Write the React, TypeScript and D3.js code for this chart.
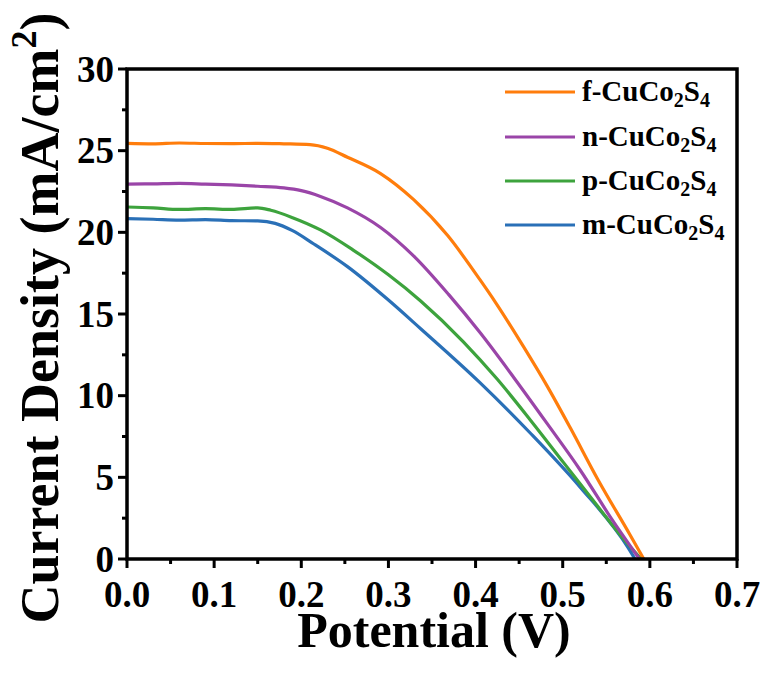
import React from 'react';
import * as d3 from 'd3';

const fPotential = [0, 0.03, 0.06, 0.09, 0.12, 0.15, 0.18, 0.21, 0.23, 0.253, 0.291, 0.329, 0.368, 0.405, 0.423, 0.455, 0.482, 0.509, 0.54, 0.577, 0.593];
const fCurrent = [25.45, 25.42, 25.47, 25.44, 25.43, 25.45, 25.42, 25.37, 25.15, 24.6, 23.6, 22.0, 19.8, 17.1, 15.7, 13.0, 10.6, 8.0, 4.9, 1.5, 0];

const nPotential = [0, 0.03, 0.06, 0.09, 0.12, 0.15, 0.18, 0.2, 0.222, 0.253, 0.291, 0.33, 0.369, 0.406, 0.444, 0.482, 0.52, 0.558, 0.588];
const nCurrent = [22.95, 22.97, 23.0, 22.95, 22.9, 22.82, 22.72, 22.55, 22.2, 21.5, 20.3, 18.5, 16.2, 13.8, 11.1, 8.3, 5.45, 2.3, 0];

const pPotential = [0, 0.03, 0.06, 0.09, 0.12, 0.15, 0.165, 0.19, 0.222, 0.26, 0.3, 0.337, 0.386, 0.425, 0.463, 0.501, 0.539, 0.575, 0.59];
const pCurrent = [21.55, 21.5, 21.4, 21.45, 21.4, 21.5, 21.35, 20.9, 20.15, 18.9, 17.4, 15.8, 13.3, 11.0, 8.5, 5.9, 3.3, 0.9, 0];

const mPotential = [0, 0.03, 0.06, 0.09, 0.12, 0.15, 0.17, 0.19, 0.214, 0.253, 0.299, 0.337, 0.405, 0.463, 0.52, 0.575, 0.583];
const mCurrent = [20.84, 20.8, 20.75, 20.78, 20.72, 20.7, 20.55, 20.1, 19.3, 17.9, 15.9, 14.1, 10.8, 7.7, 4.4, 0.7, 0];

const seriesPrefixes = ['f', 'n', 'p', 'm'];
const seriesColors = ['#FF7D0C', '#9A45A8', '#3DA33D', '#2A70B7'];
const seriesPotentials = [fPotential, nPotential, pPotential, mPotential];
const seriesCurrents = [fCurrent, nCurrent, pCurrent, mCurrent];

const xTicks = [0, 0.1, 0.2, 0.3, 0.4, 0.5, 0.6, 0.7];
const xMinorTicks = [0.05, 0.15, 0.25, 0.35, 0.45, 0.55, 0.65];
const yTicks = [0, 5, 10, 15, 20, 25, 30];
const yMinorTicks = [2.5, 7.5, 12.5, 17.5, 22.5, 27.5];

const W = 766;
const H = 673;
const left = 127, right = 737, top = 69, bottom = 559;
const FONT = '"Liberation Serif", "Times New Roman", serif';

export default function App() {
  const x = d3.scaleLinear().domain([0, 0.7]).range([left, right]);
  const y = d3.scaleLinear().domain([0, 30]).range([bottom, top]);
  const line = d3.line<[number, number]>()
    .x(d => x(d[0]))
    .y(d => y(d[1]))
    .curve(d3.curveMonotoneX);

  const legendY = [92, 137, 181, 225];

  return (
    <svg width={W} height={H} style={{ position: 'absolute', left: 0, top: 0, background: '#fff' }} fontFamily={FONT} fontWeight="bold">
      <rect x={0} y={0} width={W} height={H} fill="#fff" />
      {seriesPotentials.map((vs, i) => {
        const pts = vs.map((v, k) => [v, seriesCurrents[i][k]] as [number, number]);
        return <path key={i} d={line(pts) || ''} fill="none" stroke={seriesColors[i]} strokeWidth={3.2} strokeLinejoin="round" />;
      }).reverse()}
      <rect x={left} y={top} width={right - left} height={bottom - top} fill="none" stroke="#000" strokeWidth={3.5} />
      {xTicks.map(t => (
        <g key={'xt' + t}>
          <line x1={x(t)} x2={x(t)} y1={bottom} y2={bottom + 9} stroke="#000" strokeWidth={3} />
          <text x={x(t)} y={607} textAnchor="middle" fontSize={37}>{t.toFixed(1)}</text>
        </g>
      ))}
      {xMinorTicks.map(t => (
        <line key={'xm' + t} x1={x(t)} x2={x(t)} y1={bottom} y2={bottom + 5} stroke="#000" strokeWidth={3} />
      ))}
      {yTicks.map(t => (
        <g key={'yt' + t}>
          <line x1={left - 9} x2={left} y1={y(t)} y2={y(t)} stroke="#000" strokeWidth={3} />
          <text x={114} y={y(t) + 12.5} textAnchor="end" fontSize={37}>{t}</text>
        </g>
      ))}
      {yMinorTicks.map(t => (
        <line key={'ym' + t} x1={left - 5} x2={left} y1={y(t)} y2={y(t)} stroke="#000" strokeWidth={3} />
      ))}
      <text x={434} y={647} textAnchor="middle" fontSize={50}>Potential (V)</text>
      <text transform={`translate(58,318) rotate(-90)`} textAnchor="middle" fontSize={54}>
        Current Density (mA/cm<tspan fontSize={36} dy={-22}>2</tspan><tspan dy={22}>)</tspan>
      </text>
      {seriesPrefixes.map((p, i) => (
        <g key={'lg' + p}>
          <line x1={505} x2={575} y1={legendY[i]} y2={legendY[i]} stroke={seriesColors[i]} strokeWidth={3.2} />
          <text x={582} y={legendY[i] + 9} fontSize={29}>
            {p}-CuCo<tspan fontSize={20} dy={6}>2</tspan><tspan dy={-6}>S</tspan><tspan fontSize={20} dy={6}>4</tspan>
          </text>
        </g>
      ))}
    </svg>
  );
}
